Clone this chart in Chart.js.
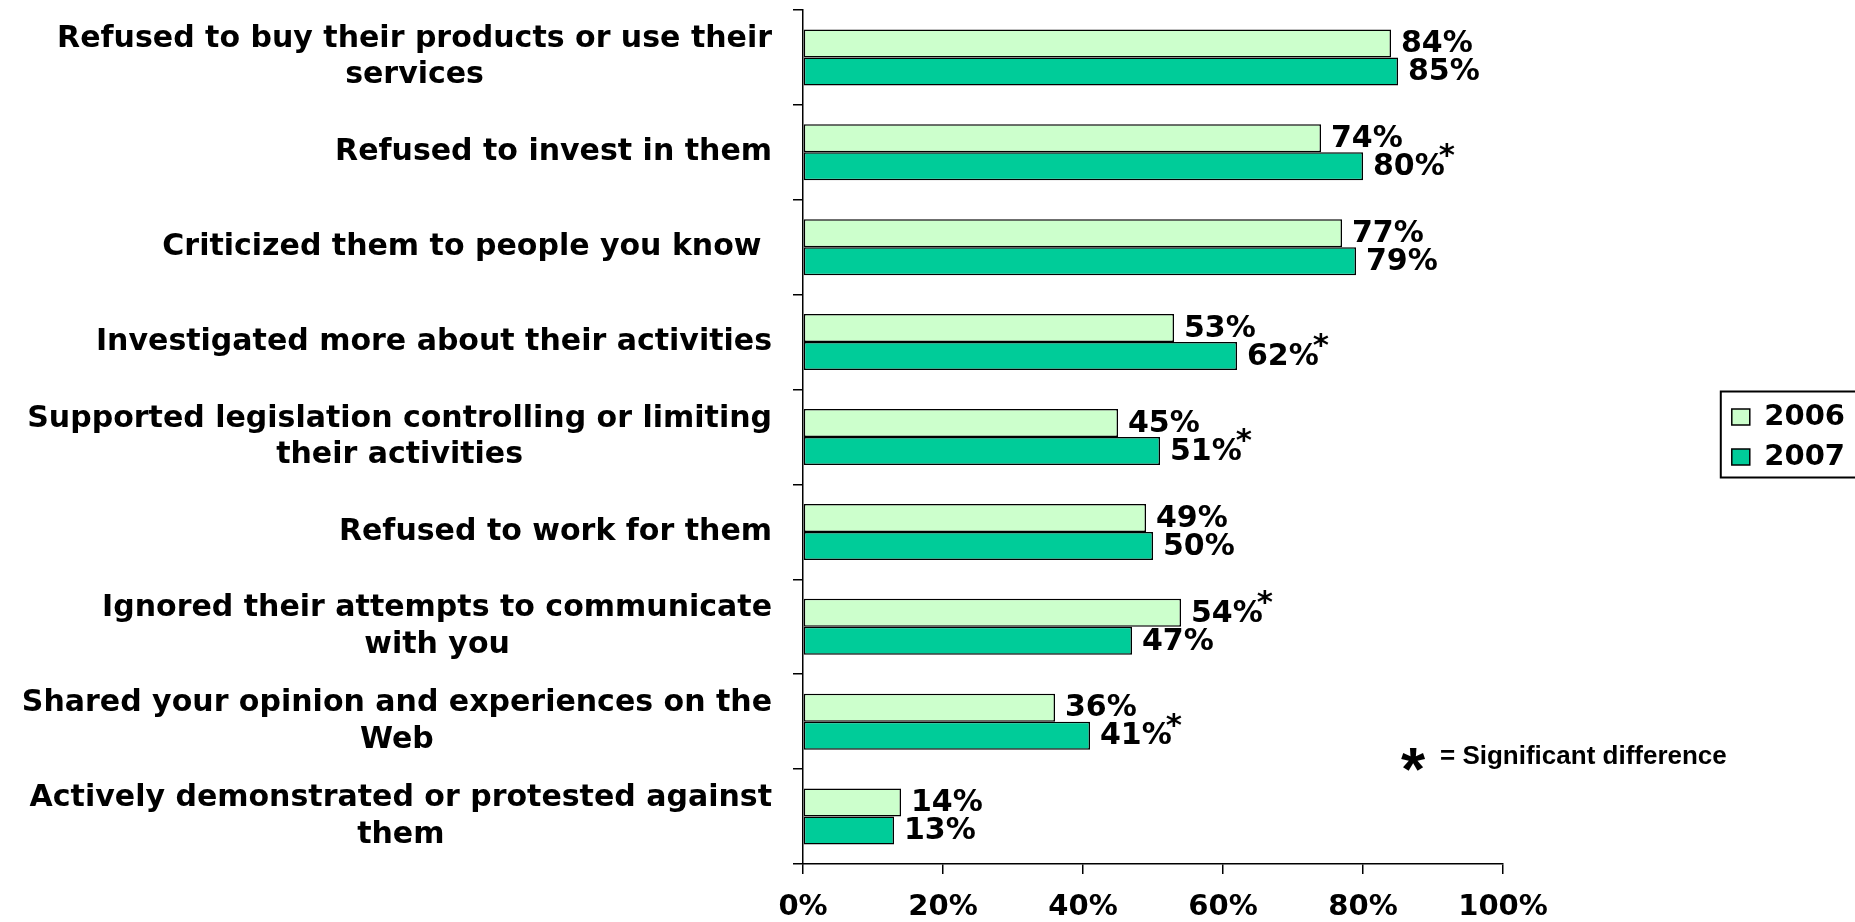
<!DOCTYPE html>
<html>
<head>
<meta charset="utf-8">
<script src="https://cdn.jsdelivr.net/npm/chart.js@4/dist/chart.umd.min.js"></script>
<style>
html, body { margin: 0; padding: 0; background: #fff; overflow: hidden; }
#wrap { width: 1855px; height: 922px; }
</style>
</head>
<body>
<div id="wrap"><canvas id="myChart"></canvas></div>
<script>
const categories = [
    ['Refused to buy their products or use their', 'services'],
    ['Refused to invest in them'],
    ['Criticized them to people you know '],
    ['Investigated more about their activities'],
    ['Supported legislation controlling or limiting', 'their activities'],
    ['Refused to work for them'],
    ['Ignored their attempts to communicate', 'with you'],
    ['Shared your opinion and experiences on the', 'Web'],
    ['Actively demonstrated or protested against', 'them']
];

const values2006 = [84, 74, 77, 53, 45, 49, 54, 36, 14];
const values2007 = [85, 80, 79, 62, 51, 50, 47, 41, 13];

// index of the series whose label gets the "*" (significant difference), -1 = none
const starSeries = [-1, 1, -1, 1, 1, -1, 0, 1, -1];

const xTicks = [0, 20, 40, 60, 80, 100];

const FONT = '"DejaVu Sans", Verdana, sans-serif';

// category names, drawn right-aligned as a block with centred lines
const categoryLabels = {
    id: 'categoryLabels',
    afterDraw(chart) {
        const ctx = chart.ctx;
        const y = chart.scales.y;
        ctx.save();
        ctx.font = 'bold 30px ' + FONT;
        ctx.fillStyle = '#000';
        ctx.textAlign = 'center';
        ctx.textBaseline = 'middle';
        categories.forEach((lines, i) => {
            const cy = y.getPixelForValue(i);
            const maxW = Math.max(...lines.map(l => ctx.measureText(l).width));
            const cx = y.right - 31 - maxW / 2;
            lines.forEach((l, k) => {
                ctx.fillText(l, cx, cy + (k - (lines.length - 1) / 2) * 36.5);
            });
        });
        ctx.restore();
    }
};

// percentage labels at the end of each bar
const barLabels = {
    id: 'barLabels',
    afterDatasetsDraw(chart) {
        const ctx = chart.ctx;
        ctx.save();
        ctx.fillStyle = '#000';
        ctx.textBaseline = 'middle';
        chart.data.datasets.forEach((ds, d) => {
            chart.getDatasetMeta(d).data.forEach((bar, i) => {
                const txt = ds.data[i] + '%';
                ctx.font = 'bold 30px ' + FONT;
                ctx.textAlign = 'left';
                const x = bar.x + 10;
                ctx.fillText(txt, x, bar.y + 1);
                if (starSeries[i] === d) {
                    const w = ctx.measureText(txt).width;
                    ctx.font = 'bold 31px ' + FONT;
                    ctx.textAlign = 'center';
                    ctx.fillText('*', x + w + 2, bar.y - 9);
                }
            });
        });
        ctx.restore();
    }
};

// legend sits against the right edge, with a frame round it; plus the footnote
const legendFrame = {
    id: 'legendFrame',
    afterLayout(chart) {
        const lg = chart.legend;
        const w = lg.width;
        lg.right = chart.width;
        lg.left = chart.width - w;
        lg.top = chart.chartArea.top;
        lg.bottom = chart.chartArea.bottom;
    },
    afterDraw(chart) {
        const ctx = chart.ctx;
        const lg = chart.legend;
        const pad = lg.options.labels.padding;
        const colH = lg.columnSizes[0].height;
        const y0 = (lg.top + pad + lg.bottom - colH) / 2;
        ctx.save();
        ctx.strokeStyle = '#000';
        ctx.lineWidth = 2;
        ctx.strokeRect(lg.left + pad - 11, y0 - 11, 200, colH - pad + 17);

        ctx.fillStyle = '#000';
        ctx.textBaseline = 'middle';
        ctx.textAlign = 'center';
        ctx.font = 'bold 62px "Liberation Sans", Arial, sans-serif';
        ctx.fillText('*', 1413, 773);
        ctx.textAlign = 'left';
        ctx.font = 'bold 26px "Liberation Sans", Arial, sans-serif';
        ctx.fillText('= Significant difference', 1440, 757);
        ctx.restore();
    }
};

const data = {
    labels: categories,
    datasets: [{
        label: '2006',
        data: values2006,
        backgroundColor: '#CCFFCC',
        borderColor: '#000',
        borderWidth: 1.5,
        borderSkipped: false
    }, {
        label: '2007',
        data: values2007,
        backgroundColor: '#00CC99',
        borderColor: '#000',
        borderWidth: 1.5,
        borderSkipped: false
    }]
};

const config = {
    type: 'bar',
    data: data,
    options: {
        indexAxis: 'y',
        responsive: true,
        maintainAspectRatio: false,
        animation: false,
        layout: { padding: { top: 10 } },
        datasets: {
            bar: { categoryPercentage: 0.59, barPercentage: 1 }
        },
        scales: {
            x: {
                min: 0,
                max: 100,
                afterBuildTicks: scale => { scale.ticks = xTicks.map(v => ({ value: v })); },
                afterFit: scale => { scale.paddingRight = 352; scale.height = 58; },
                ticks: {
                    color: '#000',
                    padding: 16,
                    font: { family: FONT, size: 29, weight: 'bold' },
                    callback: v => v + '%'
                },
                grid: {
                    drawOnChartArea: false,
                    drawTicks: true,
                    tickLength: 10,
                    color: '#000',
                    lineWidth: 1.5
                },
                border: { color: '#000', width: 1.5 }
            },
            y: {
                afterFit: scale => { scale.width = 803; },
                ticks: { display: false },
                grid: {
                    offset: true,
                    drawOnChartArea: false,
                    drawTicks: true,
                    tickLength: 10,
                    color: '#000',
                    lineWidth: 1.5
                },
                border: { color: '#000', width: 1.5 }
            }
        },
        plugins: {
            tooltip: { enabled: false },
            legend: {
                position: 'right',
                labels: {
                    color: '#000',
                    boxWidth: 18,
                    boxHeight: 16,
                    padding: 11,
                    font: { family: FONT, size: 29, weight: 'bold' }
                }
            }
        }
    },
    plugins: [categoryLabels, barLabels, legendFrame]
};

const myChart = new Chart(document.getElementById('myChart'), config);
</script>
</body>
</html>
